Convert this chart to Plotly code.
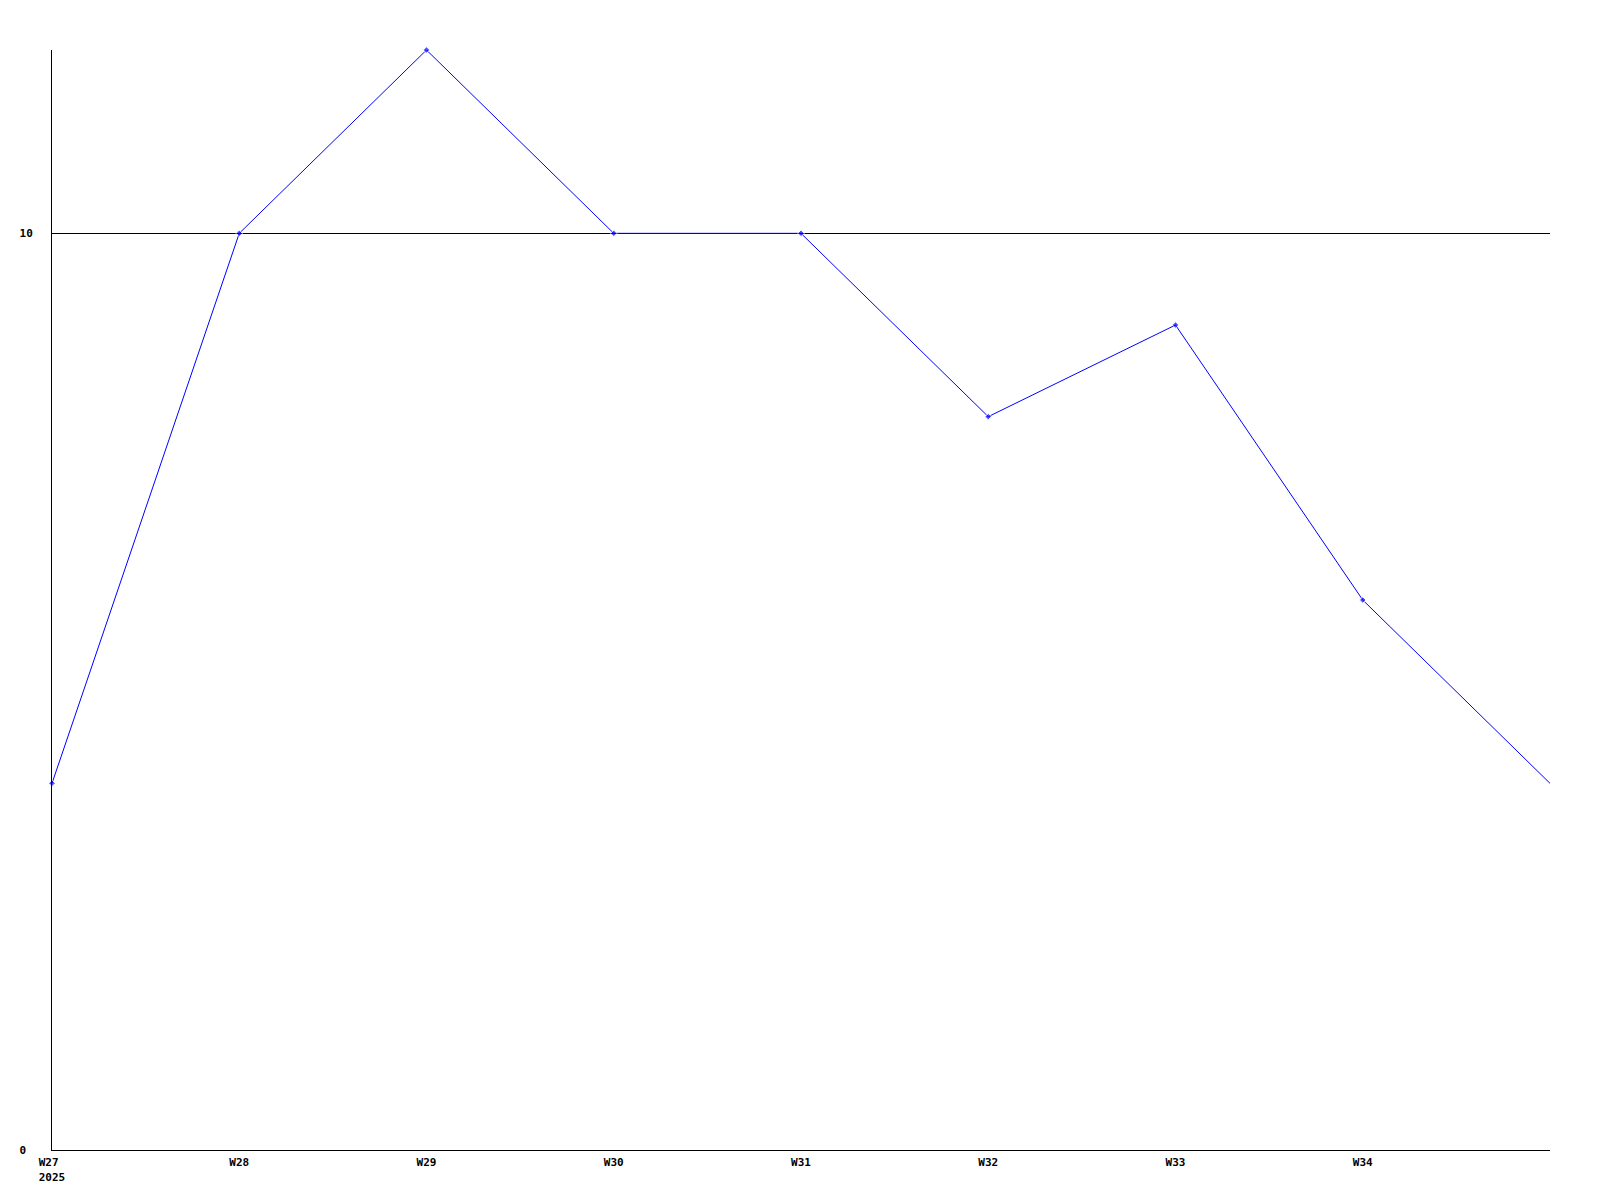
import plotly.graph_objects as go

weeks = [27, 28, 29, 30, 31, 32, 33, 34, 35]
values = [4, 10, 12, 10, 10, 8, 9, 6, 4]
tick_weeks = [27, 28, 29, 30, 31, 32, 33, 34]
tick_labels = ["W27\u00a0<br>2025", "W28", "W29", "W30", "W31", "W32", "W33", "W34"]
y_ticks = [0, 10]
y_tick_labels = ["0\u00a0", "10"]

marker_sizes = [5] * (len(weeks) - 1) + [0]

fig = go.Figure()
fig.add_trace(go.Scatter(
    x=weeks, y=values, mode="lines+markers",
    line=dict(color="#0000ff", width=1),
    marker=dict(color="#0000ff", size=marker_sizes, symbol="diamond"),
    cliponaxis=False,
    showlegend=False,
))

font = dict(family="DejaVu Sans Mono", size=11, color="#000000", weight="bold")

fig.update_layout(
    width=1600, height=1200,
    margin=dict(l=42, r=58, t=42, b=58, pad=0),
    paper_bgcolor="white", plot_bgcolor="white",
    xaxis=dict(
        range=[27, 35], tickmode="array", tickvals=tick_weeks, ticktext=tick_labels,
        showgrid=False, zeroline=False, showline=True, linecolor="black", linewidth=1,
        ticks="", tickfont=font, ticklabelstandoff=2,
    ),
    yaxis=dict(
        range=[0, 12], tickmode="array", tickvals=y_ticks, ticktext=y_tick_labels,
        showgrid=True, gridcolor="black", gridwidth=1, zeroline=False,
        showline=True, linecolor="black", linewidth=1,
        ticks="", tickfont=font, ticklabelstandoff=16,
    ),
)

fig.write_html("out.html")
